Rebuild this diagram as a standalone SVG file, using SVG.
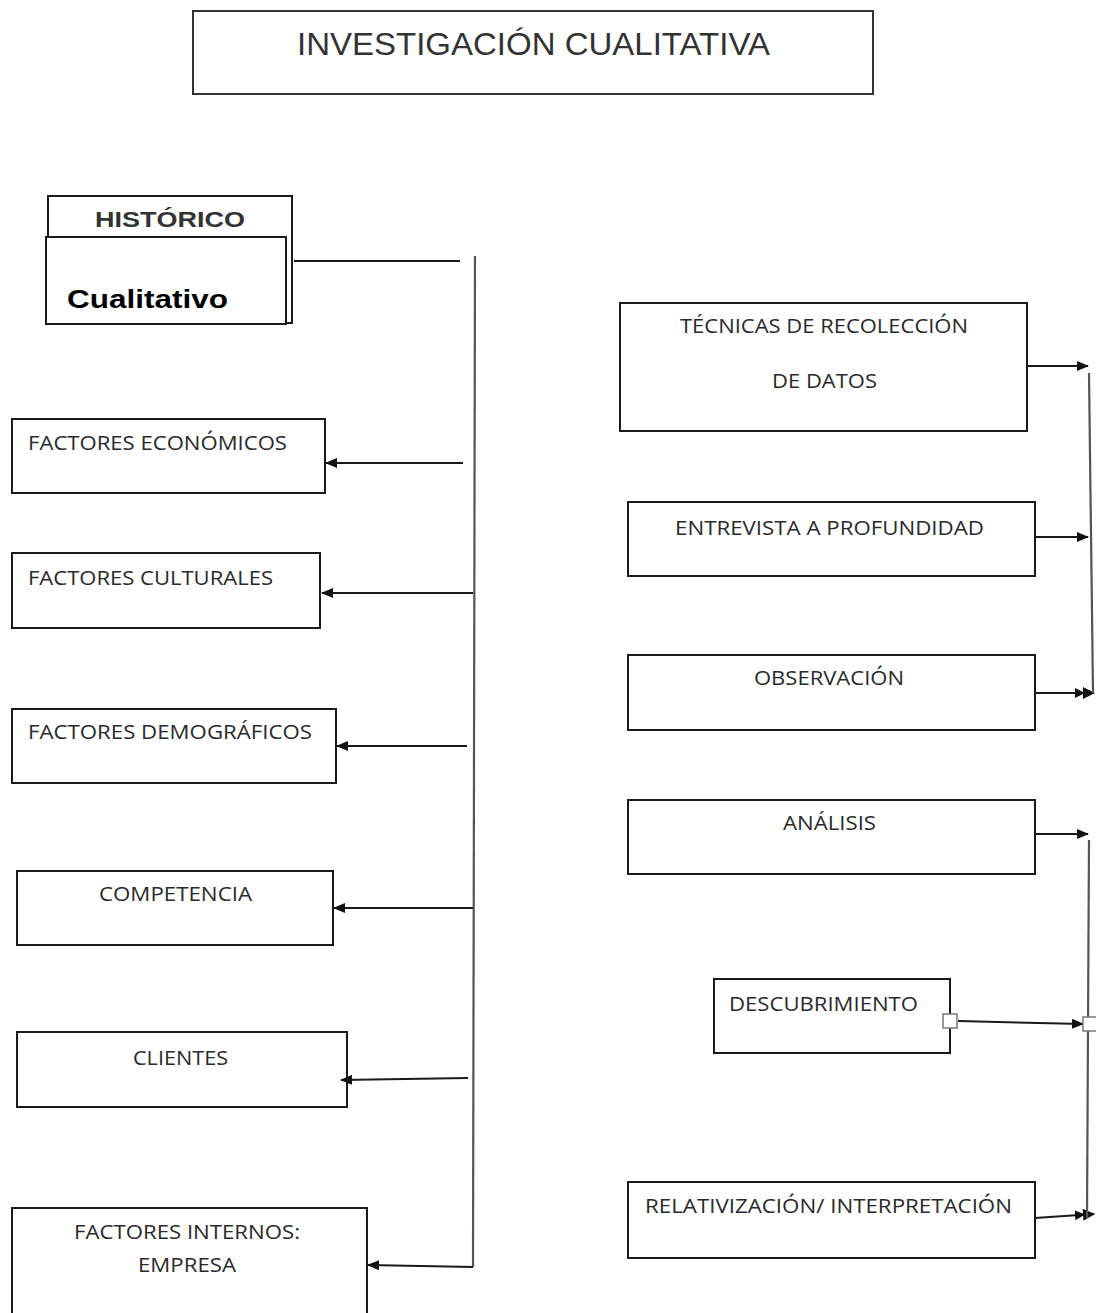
<svg xmlns="http://www.w3.org/2000/svg" width="1096" height="1313" viewBox="0 0 1096 1313">
<style>
.box{fill:#fff;stroke:#1a1a1a;stroke-width:2}
.lbl{font-family:"Open Sans","Liberation Sans",sans-serif;font-size:20px;fill:#2a2a2a}
.ttl{font-family:"Liberation Sans",Arial,sans-serif;font-size:32px;fill:#333}
.con{fill:none;stroke:#1a1a1a;stroke-width:2}
.vert{fill:none;stroke:#555;stroke-width:2.2}
.port{fill:#fff;stroke:#777;stroke-width:1.5}
</style>
<defs>
<marker id="ah" markerUnits="userSpaceOnUse" markerWidth="12" markerHeight="10" viewBox="0 0 12 10" refX="11" refY="5" orient="auto">
<path d="M0,0 L12,5 L0,10 Z" fill="#111"/>
</marker>
<marker id="ah2" markerUnits="userSpaceOnUse" markerWidth="20" markerHeight="12" viewBox="0 0 20 12" refX="19" refY="6" orient="auto">
<path d="M0,1 L10,6 L0,11 Z M8,0 L20,6 L8,12 Z" fill="#111"/>
</marker>
</defs>
<rect width="1096" height="1313" fill="#fff"/>

<g id="title">
<rect class="box" x="193" y="11" width="680" height="83" style="stroke:#333"/>
<text class="ttl" x="297" y="55" textLength="473" lengthAdjust="spacingAndGlyphs">INVESTIGACIÓN CUALITATIVA</text>
</g>

<g id="historico">
<rect class="box" x="48" y="196" width="244" height="127"/>
<text x="95" y="227" textLength="150" lengthAdjust="spacingAndGlyphs" style="font-family:'Liberation Sans',Arial,sans-serif;font-weight:bold;font-size:22px;fill:#333">HISTÓRICO</text>
<rect class="box" x="46" y="237" width="240" height="87"/>
<text x="67" y="308" textLength="161" lengthAdjust="spacingAndGlyphs" style="font-family:'Liberation Sans',Arial,sans-serif;font-weight:bold;font-size:26px;fill:#000">Cualitativo</text>
</g>

<g id="economicos">
<rect class="box" x="12" y="419" width="313" height="74"/>
<text class="lbl" x="28" y="450" textLength="259" lengthAdjust="spacingAndGlyphs">FACTORES ECONÓMICOS</text>
</g>
<g id="culturales">
<rect class="box" x="12" y="553" width="308" height="75"/>
<text class="lbl" x="28" y="585" textLength="245" lengthAdjust="spacingAndGlyphs">FACTORES CULTURALES</text>
</g>
<g id="demograficos">
<rect class="box" x="12" y="709" width="324" height="74"/>
<text class="lbl" x="28" y="739" textLength="284" lengthAdjust="spacingAndGlyphs">FACTORES DEMOGRÁFICOS</text>
</g>
<g id="competencia">
<rect class="box" x="17" y="871" width="316" height="74"/>
<text class="lbl" x="99" y="901" textLength="153" lengthAdjust="spacingAndGlyphs">COMPETENCIA</text>
</g>
<g id="clientes">
<rect class="box" x="17" y="1032" width="330" height="75"/>
<text class="lbl" x="133" y="1065" textLength="95" lengthAdjust="spacingAndGlyphs">CLIENTES</text>
</g>
<g id="internos">
<rect class="box" x="12" y="1208" width="355" height="120"/>
<text class="lbl" x="74" y="1239" textLength="226" lengthAdjust="spacingAndGlyphs">FACTORES INTERNOS:</text>
<text class="lbl" x="138" y="1272" textLength="98" lengthAdjust="spacingAndGlyphs">EMPRESA</text>
</g>

<g id="tecnicas">
<rect class="box" x="620" y="303" width="407" height="128"/>
<text class="lbl" x="680" y="333" textLength="288" lengthAdjust="spacingAndGlyphs">TÉCNICAS DE RECOLECCIÓN</text>
<text class="lbl" x="772" y="388" textLength="105" lengthAdjust="spacingAndGlyphs">DE DATOS</text>
</g>
<g id="entrevista">
<rect class="box" x="628" y="502" width="407" height="74"/>
<text class="lbl" x="675" y="535" textLength="309" lengthAdjust="spacingAndGlyphs">ENTREVISTA A PROFUNDIDAD</text>
</g>
<g id="observacion">
<rect class="box" x="628" y="655" width="407" height="75"/>
<text class="lbl" x="754" y="685" textLength="150" lengthAdjust="spacingAndGlyphs">OBSERVACIÓN</text>
</g>
<g id="analisis">
<rect class="box" x="628" y="800" width="407" height="74"/>
<text class="lbl" x="783" y="830" textLength="93" lengthAdjust="spacingAndGlyphs">ANÁLISIS</text>
</g>
<g id="descubrimiento">
<rect class="box" x="714" y="979" width="236" height="74"/>
<text class="lbl" x="729" y="1011" textLength="189" lengthAdjust="spacingAndGlyphs">DESCUBRIMIENTO</text>
</g>
<g id="relativizacion">
<rect class="box" x="628" y="1182" width="407" height="76"/>
<text class="lbl" x="645" y="1213" textLength="367" lengthAdjust="spacingAndGlyphs">RELATIVIZACIÓN/ INTERPRETACIÓN</text>
</g>

<g id="connectors">
<line class="con" x1="294" y1="261" x2="460" y2="261"/>
<path class="vert" d="M475,256 L473,1267"/>
<path class="con" d="M473,1267 L368,1265" marker-end="url(#ah)"/>
<line class="con" x1="463" y1="463" x2="326" y2="463" marker-end="url(#ah)"/>
<line class="con" x1="473" y1="593" x2="322" y2="593" marker-end="url(#ah)"/>
<line class="con" x1="467" y1="746" x2="337" y2="746" marker-end="url(#ah)"/>
<line class="con" x1="473" y1="908" x2="334" y2="908" marker-end="url(#ah)"/>
<line class="con" x1="468" y1="1078" x2="341" y2="1080" marker-end="url(#ah)"/>

<line class="con" x1="1027" y1="366" x2="1088" y2="366" marker-end="url(#ah)"/>
<line class="con" x1="1035" y1="537" x2="1088" y2="537" marker-end="url(#ah)"/>
<line class="con" x1="1035" y1="693" x2="1094" y2="693" marker-end="url(#ah2)"/>
<path class="vert" d="M1089,373 L1093,693"/>

<line class="con" x1="1035" y1="834" x2="1088" y2="834" marker-end="url(#ah)"/>
<line class="con" x1="958" y1="1021" x2="1083" y2="1024" marker-end="url(#ah)"/>
<line class="con" x1="1035" y1="1218" x2="1094" y2="1214" marker-end="url(#ah2)"/>
<path class="vert" d="M1089,840 L1087,1218"/>
<rect class="port" x="943" y="1014" width="14" height="14"/>
<rect class="port" x="1083" y="1017" width="14" height="14"/>
</g>
</svg>
